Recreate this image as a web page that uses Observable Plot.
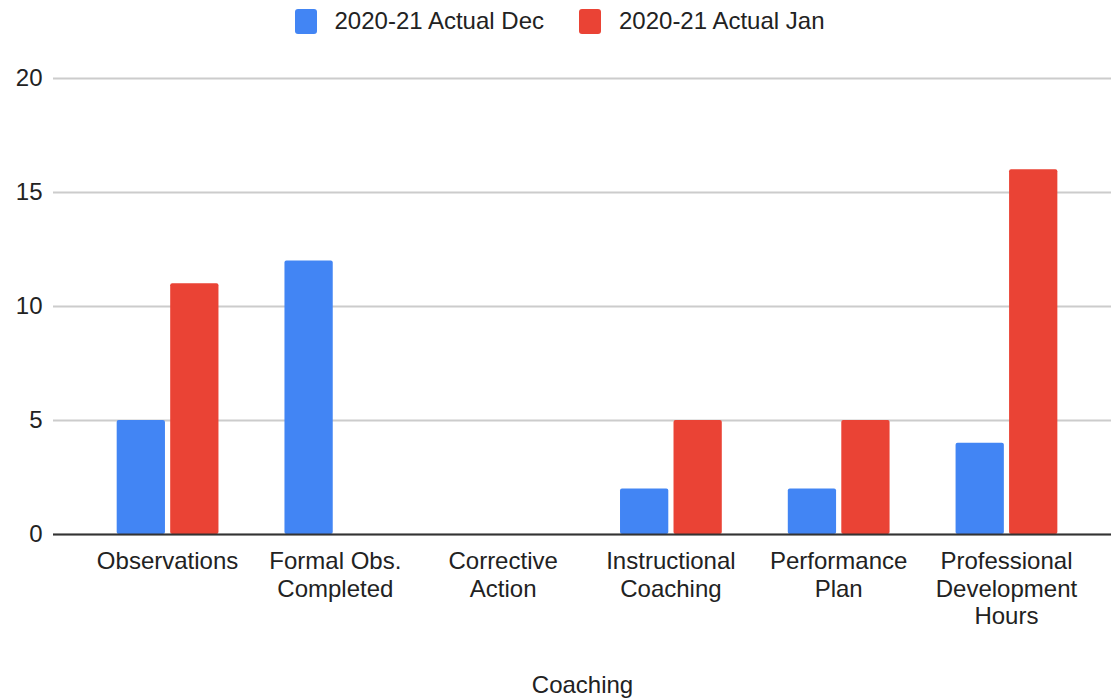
<!DOCTYPE html>
<html>
<head>
<meta charset="utf-8">
<script src="https://cdn.jsdelivr.net/npm/d3@7"></script>
<script src="https://cdn.jsdelivr.net/npm/@observablehq/plot@0.6"></script>
<style>
  html, body { margin: 0; padding: 0; background: #fff; }
  body { width: 1111px; height: 699px; overflow: hidden; font-family: "Liberation Sans", Arial, sans-serif; }
  #legend { height: 42px; display: flex; justify-content: center; align-items: center; font-size: 24px; color: #222; padding-left: 8px; box-sizing: border-box; }
  .item { display: flex; align-items: center; }
  .sw { width: 22px; height: 25px; border-radius: 3px; margin-right: 18px; }
  .item + .item { margin-left: 35px; }
  svg { display: block; }
</style>
</head>
<body>
<div id="legend"></div>
<div id="chart"></div>
<script>
const categories = ["Observations", "Formal Obs. Completed", "Corrective Action", "Instructional Coaching", "Performance Plan", "Professional Development Hours"];
const tickLabels = ["Observations", "Formal Obs.\nCompleted", "Corrective\nAction", "Instructional\nCoaching", "Performance\nPlan", "Professional\nDevelopment\nHours"];
const seriesNames = ["2020-21 Actual Dec", "2020-21 Actual Jan"];
const seriesColors = ["#4285F4", "#EA4335"];
const decValues = [5, 12, 0, 2, 2, 4];
const janValues = [11, 0, 0, 5, 5, 16];
const yTicks = [0, 5, 10, 15, 20];
const xTitle = "Coaching";

// legend
const legend = document.getElementById("legend");
seriesNames.forEach((name, i) => {
  const item = document.createElement("div");
  item.className = "item";
  const sw = document.createElement("div");
  sw.className = "sw";
  sw.style.background = seriesColors[i];
  const label = document.createElement("span");
  label.textContent = name;
  item.appendChild(sw);
  item.appendChild(label);
  legend.appendChild(item);
});

const dec = categories.map((c, i) => ({category: c, value: decValues[i]})).filter(d => d.value > 0);
const jan = categories.map((c, i) => ({category: c, value: janValues[i]})).filter(d => d.value > 0);
const labelOf = new Map(categories.map((c, i) => [c, tickLabels[i]]));

const chart = Plot.plot({
  width: 1111,
  height: 657,
  marginLeft: 53,
  marginRight: 0,
  marginTop: 36,
  marginBottom: 165,
  style: {fontFamily: "'Liberation Sans', Arial, sans-serif", fontSize: "24px", color: "#222", background: "#fff"},
  x: {type: "band", domain: categories, paddingInner: 0, paddingOuter: 0.153, align: 0.588, round: false},
  y: {domain: [0, 20], ticks: yTicks},
  marks: [
    Plot.gridY(yTicks, {stroke: "#cccccc", strokeOpacity: 1, strokeWidth: 1.8}),
    Plot.axisY(yTicks, {tickSize: 0, tickPadding: 11, fontSize: 24, label: null}),
    Plot.barY(dec, {x: "category", y: "value", fill: seriesColors[0], insetLeft: 33.5, insetRight: 86, rx: 2}),
    Plot.barY(jan, {x: "category", y: "value", fill: seriesColors[1], insetLeft: 87, insetRight: 32.5, rx: 2}),
    Plot.ruleY([0], {stroke: "#333", strokeWidth: 1.8}),
    Plot.axisX({tickSize: 0, tickPadding: 15, fontSize: 24, lineHeight: 1.15, tickFormat: d => labelOf.get(d), label: null}),
    Plot.text([xTitle], {frameAnchor: "bottom", dy: 151, lineAnchor: "middle", fontSize: 24, fill: "#222"})
  ]
});
document.getElementById("chart").appendChild(chart);
</script>
</body>
</html>
